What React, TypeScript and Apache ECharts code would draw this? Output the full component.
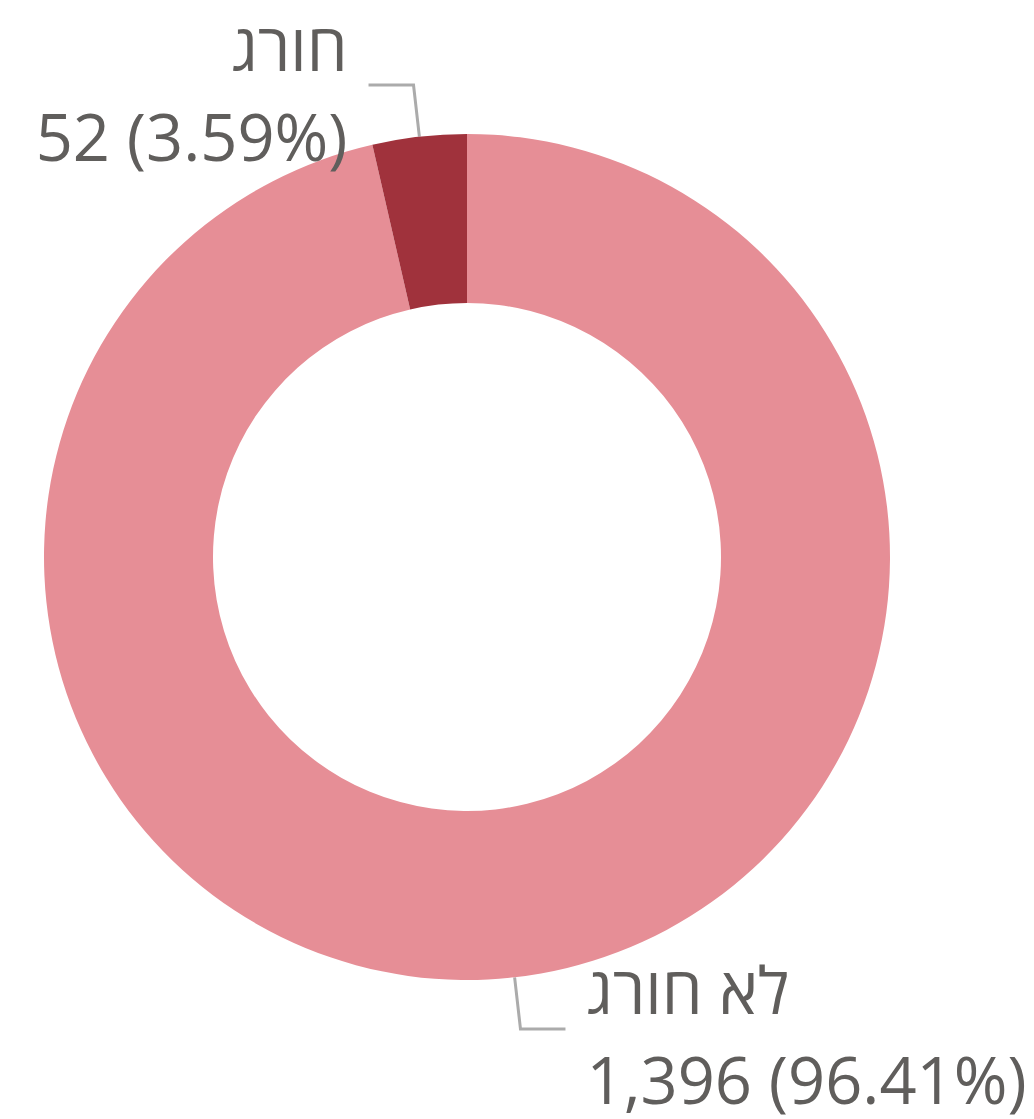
import React, { useEffect, useRef } from "react";
import * as echarts from "echarts";

const categories = ["לא חורג", "חורג"];
const values = [1396, 52];
const colors = ["#E68E96", "#A0323C"];

const FONT = "Open Sans, Noto Sans, sans-serif";
const TEXT_COLOR = "#605E5C";

export default function App() {
  const ref = useRef<HTMLDivElement>(null);
  useEffect(() => {
    if (!ref.current) return;
    const chart = echarts.init(ref.current, null, { renderer: "svg" });
    chart.setOption({
      animation: false,
      backgroundColor: "#ffffff",
      series: [
        {
          type: "pie",
          center: [467, 557],
          radius: [254, 423],
          startAngle: 90,
          clockwise: true,
          avoidLabelOverlap: false,
          data: categories.map((name, i) => ({
            name,
            value: values[i],
            itemStyle: { color: colors[i] },
          })),
          label: {
            show: true,
            fontFamily: FONT,
            fontSize: 65,
            color: TEXT_COLOR,
            distanceToLabelLine: 21,
            formatter: (p: any) =>
              "{n|" +
              p.name +
              "}\n{v|" +
              Number(p.value).toLocaleString("en-US") +
              " (" +
              p.percent.toFixed(2) +
              "%)}",
            rich: {
              n: {
                fontFamily: FONT,
                fontSize: 65,
                color: TEXT_COLOR,
                lineHeight: 101,
              },
              v: {
                fontFamily: FONT,
                fontSize: 65,
                color: TEXT_COLOR,
                lineHeight: 79,
              },
            },
          },
          labelLine: {
            show: true,
            length: 52,
            length2: 45,
            lineStyle: { color: "#ABABAB", width: 3 },
          },
        },
      ],
    });
    return () => chart.dispose();
  }, []);
  return (
    <div
      ref={ref}
      style={{ position: "fixed", left: 0, top: 0, width: 1034, height: 1119 }}
    />
  );
}
